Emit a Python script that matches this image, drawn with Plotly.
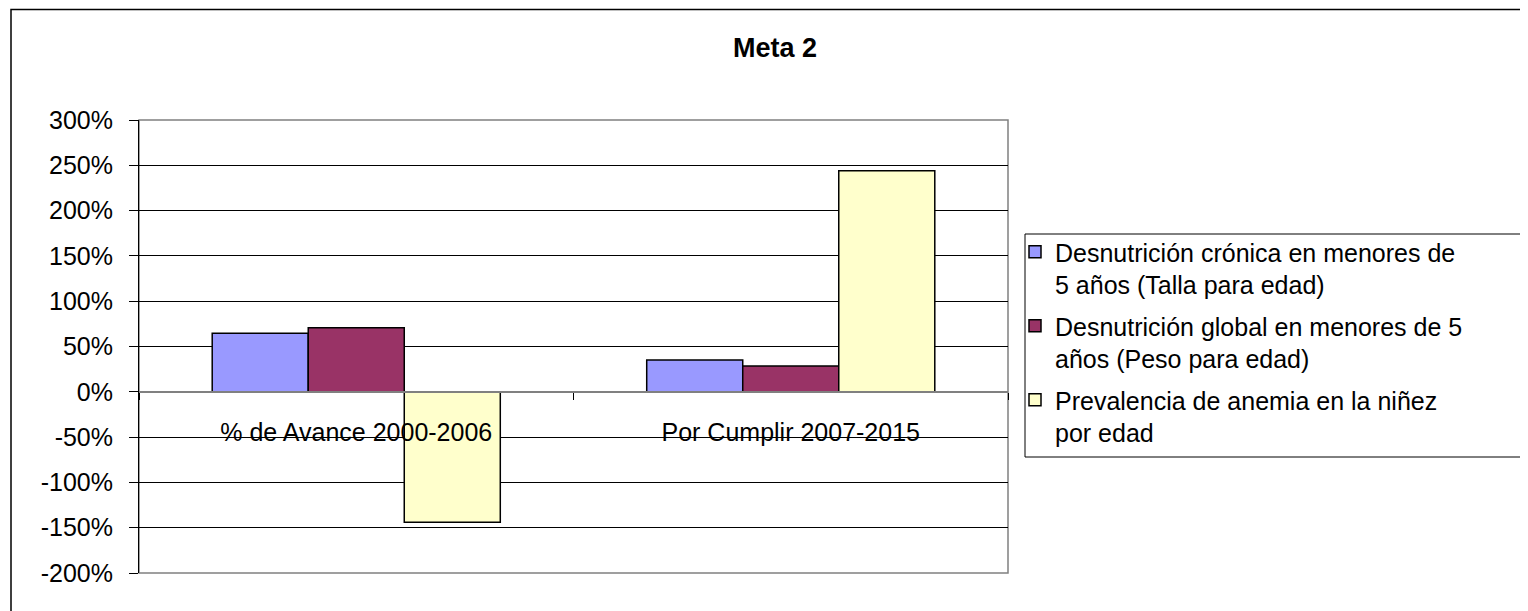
import plotly.graph_objects as go

categories = ["% de Avance 2000-2006", "Por Cumplir 2007-2015"]
series_names = [
    "Desnutrición crónica en menores de<br>5 años (Talla para edad)",
    "Desnutrición global en menores de 5<br>años (Peso para edad)",
    "Prevalencia de anemia en la niñez<br>por edad",
]
cronica = [0.645, 0.35]
global_ = [0.707, 0.285]
anemia = [-1.44, 2.44]
colors = ["#9999FF", "#993366", "#FFFFCC"]
y_ticks = [-2, -1.5, -1, -0.5, 0, 0.5, 1, 1.5, 2, 2.5, 3]
y_ticktext = ["-200%", "-150%", "-100%", "-50%", "0%", "50%", "100%",
              "150%", "200%", "250%", "300%"]

FONT = "Liberation Sans, Arial, sans-serif"
OFF = 8  # default page body margin
W, H = 1520, 603
L, R, T, B = 139 - OFF, W - (1008 - OFF), 120 - OFF, H - (573 - OFF)
pw, ph = W - L - R, H - T - B

def px_x(p):
    return (p - OFF - L) / pw

def px_y(p):
    return (H - B - (p - OFF)) / ph

fig = go.Figure()
for i, (name, vals, col) in enumerate(zip(series_names, [cronica, global_, anemia], colors)):
    fig.add_trace(go.Bar(
        x=categories, y=vals, name=name, legendgroup=f"g{i}",
        marker=dict(color=col, line=dict(color="#000000", width=1.5)),
    ))

fig.update_layout(
    width=W, height=H,
    margin=dict(l=L, r=R, t=T, b=B, pad=0),
    paper_bgcolor="white", plot_bgcolor="white",
    barmode="group", bargap=0.337, bargroupgap=0,
    font=dict(family=FONT, size=25, color="#000000"),
    title=dict(text="<b>Meta 2</b>", x=px_x(775), xref="paper", xanchor="center",
               y=1 - (48 - OFF) / H, yref="container", yanchor="middle",
               font=dict(family=FONT, size=27, color="#000000")),
    showlegend=True,
    legend=dict(x=px_x(1015), y=px_y(229), xanchor="left", yanchor="top",
                xref="paper", yref="paper",
                borderwidth=0, bgcolor="rgba(0,0,0,0)",
                font=dict(family=FONT, size=25, color="#000000"),
                traceorder="grouped", valign="top", itemwidth=30,
                tracegroupgap=6),
    xaxis=dict(
        anchor="free", position=0.4,
        showline=True, linecolor="#808080", linewidth=1.5,
        ticks="outside", tickson="boundaries", ticklen=7, tickcolor="#000000",
        ticklabelstandoff=18,
        showgrid=False, zeroline=False,
        tickfont=dict(family=FONT, size=25, color="#000000"),
    ),
    yaxis=dict(
        range=[-2, 3], tickvals=y_ticks, ticktext=y_ticktext,
        showline=True, linecolor="#000000", linewidth=1,
        ticks="outside", ticklen=9, tickcolor="#000000",
        ticklabelstandoff=11,
        showgrid=True, gridcolor="#000000", gridwidth=1,
        zeroline=False,
        tickfont=dict(family=FONT, size=25, color="#000000"),
    ),
    shapes=[
        dict(type="rect", xref="paper", yref="paper", x0=0, x1=1, y0=0, y1=1,
             line=dict(color="#808080", width=1.5), layer="below"),
        dict(type="rect", xref="paper", yref="paper",
             x0=px_x(11), x1=px_x(1560), y0=px_y(640), y1=px_y(9.5),
             line=dict(color="#000000", width=1.5), layer="below"),
        dict(type="rect", xref="paper", yref="paper",
             x0=px_x(1025), x1=px_x(1560), y0=px_y(457), y1=px_y(234),
             line=dict(color="#000000", width=1), fillcolor="white", layer="below"),
    ],
)

fig.write_html("out.html")
